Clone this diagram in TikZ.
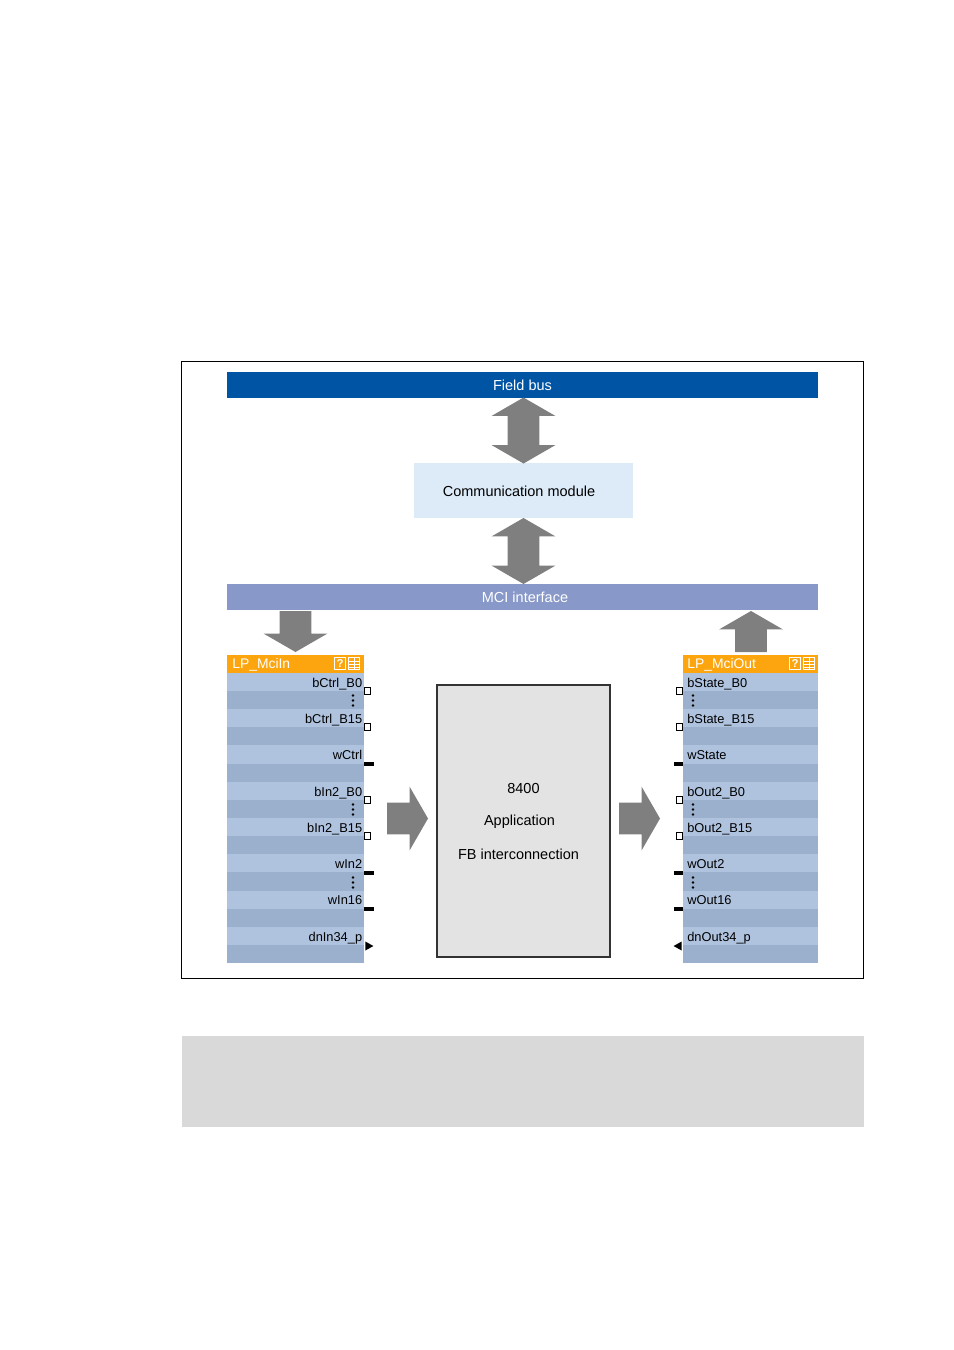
\documentclass[tikz,border=0pt]{standalone}
\usepackage{fontspec}
\setmainfont{Liberation Sans}
\usetikzlibrary{shapes.geometric, shapes.arrows}
\definecolor{Bus_Blue}{HTML}{0054A4}
\definecolor{Mci_Blue}{HTML}{8798C9}
\definecolor{Comm_Blue}{HTML}{DDEBF8}
\definecolor{Head_Orange}{HTML}{FDA50F}
\definecolor{Row_Light}{HTML}{AFC3DF}
\definecolor{Row_Dark}{HTML}{9BB0CC}
\definecolor{Arrow_Grey}{HTML}{7F7F7F}
\definecolor{App_Grey}{HTML}{E3E3E3}
\definecolor{Note_Grey}{HTML}{D9D9D9}
\newcommand{\bigfont}{\fontsize{8.25}{10}\selectfont}
\newcommand{\rowfont}{\fontsize{7.3}{9}\selectfont}

\begin{document}
\begin{tikzpicture}[
    x=0.02cm, y=-0.02cm,
    box/.style 2 args={minimum width=#1*0.02cm, minimum height=#2*0.02cm, inner sep=0pt, outer sep=0pt, anchor=center},
    bar/.style={box={591}{26}, font=\bigfont},
    rowcell/.style={box={#1}{18.3}},
    headcell/.style={box={#1}{18}, fill=Head_Orange},
    headtext/.style={font=\fontsize{7.9}{10}\selectfont, text=white, inner sep=0pt, anchor=base west},
    pinlabel/.style={font=\rowfont, inner sep=0pt},
    sqpin/.style={box={6.5}{6.5}, draw=black, line width=0.6pt, fill=white},
    barpin/.style={box={9.5}{4}, fill=black},
    tripin/.style={isosceles triangle, isosceles triangle stretches, fill=black, minimum width=9*0.02cm, minimum height=8*0.02cm, inner sep=0pt, outer sep=0pt},
    fatarrow/.style={single arrow, anchor=tail, fill=Arrow_Grey, minimum width=63*0.02cm, minimum height=41*0.02cm, single arrow head extend=16*0.02cm, single arrow tip angle=120, inner xsep=0pt, inner ysep=15.5*0.02cm, outer sep=0pt},
    bothways/.style={double arrow, fill=Arrow_Grey, rotate=90, minimum width=63*0.02cm, minimum height=66*0.02cm, double arrow head extend=16*0.02cm, double arrow tip angle=120, inner xsep=0pt, inner ysep=15.5*0.02cm, outer sep=0pt},
    iconbox/.style={box={11.5}{11.5}, draw=white, line width=0.6pt, text=white, font=\fontsize{6.5}{7}\selectfont\bfseries}
]

\useasboundingbox (0,0) rectangle (954,1350);

% Frame and grey note
\node[box={682}{617}, draw=black, line width=0.5pt] (frame) at (522.5,669.75) {};
\node[box={682}{91}, fill=Note_Grey] (note) at (523,1081.5) {};

% Top part
\node[bar, fill=Bus_Blue, text=white] (fieldbus) at (522.5,385) {Field bus};
\node[box={219}{55}, fill=Comm_Blue] (comm) at (523.5,490.5) {};
\node[font=\bigfont, inner sep=0pt] (commtext) at (519,491) {Communication module};
\node[bar, fill=Mci_Blue] (mci) at (522.5,596.5) {};
\node[font=\bigfont, text=white, inner sep=0pt] (mcitext) at (525,597) {MCI interface};
\node[bothways] (arrowtop) at (523.5,430.5) {};
\node[bothways] (arrowmid) at (523.5,551) {};

% Arrows to the blocks
\node[fatarrow, rotate=-90] (arrowin) at (295.5,611) {};
\node[fatarrow, rotate=90] (arrowout) at (751,652) {};
\node[fatarrow] (arrowapp) at (387,818.5) {};
\node[fatarrow] (arrowfb) at (619,818.5) {};

% Application
\node[box={173}{272}, fill=App_Grey, draw=black!80, line width=0.9pt] (app) at (523.5,821) {};
\node[font=\bigfont, inner sep=0pt] (apptext1) at (523.5,788.5) {8400};
\node[font=\bigfont, inner sep=0pt] (apptext2) at (519.5,822) {Application};
\node[font=\bigfont, inner sep=0pt] (apptext3) at (518.5,854) {FB interconnection};

% Rows of both blocks
\foreach \r in {0,...,15} {
    \pgfmathtruncatemacro{\shade}{mod(\r,2)}
    \ifnum\shade=0 \def\rowcol{Row_Light}\else \def\rowcol{Row_Dark}\fi
    \node[rowcell=137, fill=\rowcol] (inrow\r) at (295.5,{682+18.14*\r}) {};
    \node[rowcell=135, fill=\rowcol] (outrow\r) at (750.5,{682+18.14*\r}) {};
}

% Headers
\node[headcell=137] (inhead) at (295.5,664) {};
\node[headcell=135] (outhead) at (750.5,664) {};
\node[headtext] (intitle) at (232,668.3) {LP\_MciIn};
\node[headtext] (outtitle) at (687,668.3) {LP\_MciOut};
\foreach \x/\n in {340/in, 795/out} {
    \node[iconbox] (\n help) at (\x,663.5) {?};
    \node[iconbox] (\n grid) at (\x+14,663.5) {};
    \draw[white, line width=0.4pt] (\x+14,658) -- (\x+14,669)
        (\x+9,661) -- (\x+19,661) (\x+9,664) -- (\x+19,664) (\x+9,667) -- (\x+19,667);
}

% Labels
\foreach \lbl [count=\i from 0] in {bCtrl\_B0, bCtrl\_B15, wCtrl, bIn2\_B0, bIn2\_B15, wIn2, wIn16, dnIn34\_p}
    \node[pinlabel, anchor=base east] (inlabel\i) at (362.5,{687.2+36.28*\i}) {\lbl};
\foreach \lbl [count=\i from 0] in {bState\_B0, bState\_B15, wState, bOut2\_B0, bOut2\_B15, wOut2, wOut16, dnOut34\_p}
    \node[pinlabel, anchor=base west] (outlabel\i) at (687,{687.2+36.28*\i}) {\lbl};

% Pins
\foreach \y in {691,727,800,836} {
    \node[sqpin] (insq\y) at (367.5,\y) {};
    \node[sqpin] (outsq\y) at (679.5,\y) {};
}
\foreach \y in {763.5,873,909} {
    \node[barpin] (inbar\y) at (369,\y) {};
    \node[barpin] (outbar\y) at (678.5,\y) {};
}
\node[tripin] (intri) at (368,946) {};
\node[tripin, rotate=180] (outtri) at (679,946) {};

% Dots
\foreach \x/\y in {353/700.5, 353/809.5, 353/882.5, 693/700.5, 693/809.5, 693/882.5}
    \foreach \d in {-5,0,5}
        \fill (\x,\y+\d) circle (1.3);

\end{tikzpicture}
\end{document}
